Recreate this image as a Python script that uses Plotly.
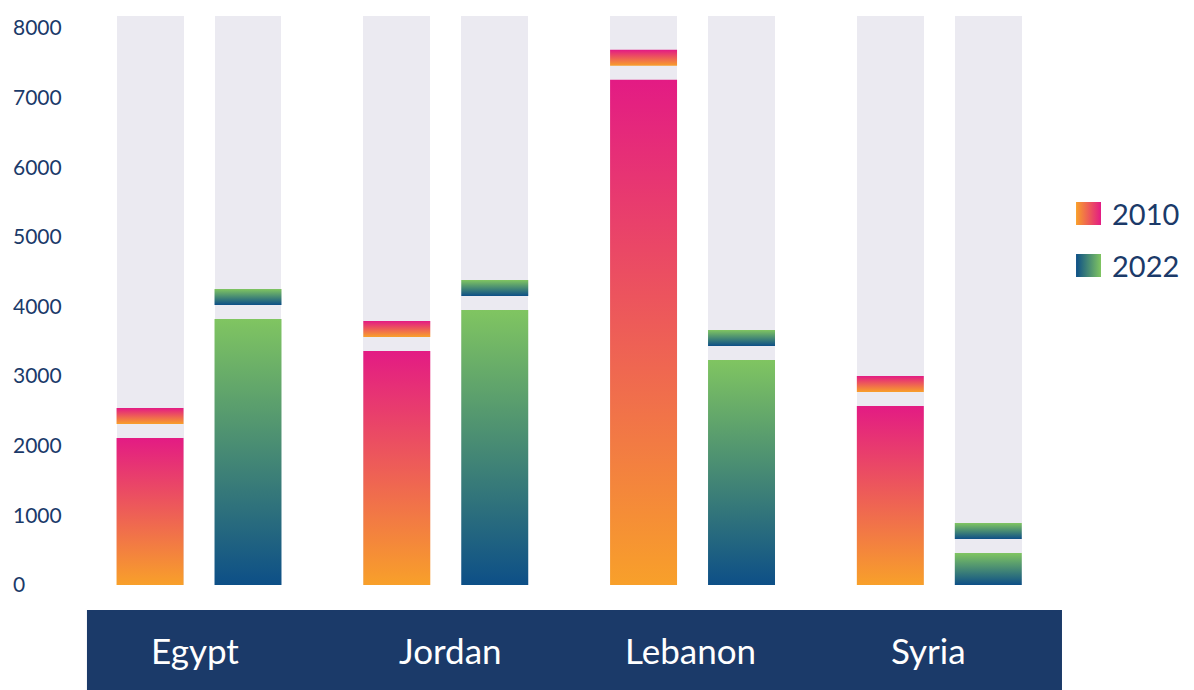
import plotly.graph_objects as go

# ---- data ----
countries = ["Egypt", "Jordan", "Lebanon", "Syria"]
years = ["2010", "2022"]
values_2010 = [2112, 3362, 7256, 2572]
values_2022 = [3822, 3951, 3233, 460]
track_max = 8172
y_ticks = [0, 1000, 2000, 3000, 4000, 5000, 6000, 7000, 8000]

# ---- style ----
NAVY = "#1b3a69"
TRACK = "#ebeaf1"
ORANGE, MAGENTA = "#f8a02a", "#e31b84"
BLUE, GREEN = "#0d4f87", "#80c561"
FONT = "Lato"
BAR_OFFSET = 0.1985   # distance of each year's bar from the group centre
HALF_W = 0.1357       # half bar width
CAP_GAP = 200         # space between the bar and its cap
CAP_H = 230           # height of the cap block
LABEL_SHIFT = [-4, 5, -2, -11]  # small horizontal nudges for the band labels

series = [
    (values_2010, -BAR_OFFSET, ORANGE, MAGENTA),
    (values_2022, BAR_OFFSET, BLUE, GREEN),
]

fig = go.Figure()

# light background tracks
for vals, off, c0, c1 in series:
    fig.add_trace(go.Bar(
        x=[i + off for i in range(len(countries))],
        y=[track_max] * len(countries),
        width=2 * HALF_W,
        marker=dict(color=TRACK, line=dict(width=0)),
        showlegend=False, hoverinfo="skip",
    ))


def rect(x0, x1, y0, y1, bottom, top):
    return go.Scatter(
        x=[x0, x1, x1, x0, x0], y=[y0, y0, y1, y1, y0],
        mode="lines", line=dict(width=0), fill="toself",
        fillgradient=dict(type="vertical",
                          colorscale=[[0, bottom], [1, top]]),
        showlegend=False, hoverinfo="skip",
    )


# gradient bars plus the small cap above each one
for vals, off, c0, c1 in series:
    for i, v in enumerate(vals):
        xc = i + off
        fig.add_trace(rect(xc - HALF_W, xc + HALF_W, 0, v, c0, c1))
        fig.add_trace(rect(xc - HALF_W, xc + HALF_W,
                           v + CAP_GAP, v + CAP_GAP + CAP_H, c0, c1))

# legend: gradient swatches on a small pixel-scaled axis to the right
legend_rows = [(years[0], ORANGE, MAGENTA, 76.5), (years[1], BLUE, GREEN, 24.5)]
for label, c0, c1, yc in legend_rows:
    fig.add_trace(go.Scatter(
        x=[6, 31, 31, 6, 6],
        y=[yc - 11.5, yc - 11.5, yc + 11.5, yc + 11.5, yc - 11.5],
        mode="lines", line=dict(width=0), fill="toself",
        fillgradient=dict(type="horizontal", colorscale=[[0, c0], [1, c1]]),
        xaxis="x2", yaxis="y2", showlegend=False, hoverinfo="skip",
    ))
    fig.add_annotation(x=40, y=yc, xref="x2", yref="y2", text=label,
                       showarrow=False, xanchor="left", yanchor="middle",
                       font=dict(family=FONT, size=29, color=NAVY))

# country band under the plot
fig.add_shape(type="rect", xref="paper", yref="paper",
              x0=0.0650, x1=0.8885, y0=-0.1525, y1=-0.01695,
              fillcolor=NAVY, line=dict(width=0), layer="below")
for i, c in enumerate(countries):
    fig.add_annotation(x=i, y=-0.0847, xref="x", yref="paper", text=c,
                       xshift=LABEL_SHIFT[i],
                       showarrow=False, xanchor="center", yanchor="middle",
                       font=dict(family=FONT, size=35, color="white"))

fig.update_layout(
    width=1194, height=690,
    margin=dict(l=10, r=0, t=10, b=90),
    paper_bgcolor="white", plot_bgcolor="white",
    barmode="overlay", bargap=0,
    showlegend=False,
    xaxis=dict(domain=[0, 0.8868], range=[-0.766, 3.489], showgrid=False,
               zeroline=False, showticklabels=False, showline=False,
               fixedrange=True),
    yaxis=dict(range=[-215.4, 8258.5], tickvals=y_ticks, showgrid=False,
               zeroline=False, showline=False, ticks="",
               ticklabelposition="inside",
               tickfont=dict(family=FONT, size=21, color=NAVY)),
    xaxis2=dict(domain=[0.8953, 1.0], anchor="y2", range=[0, 124],
                visible=False, fixedrange=True),
    yaxis2=dict(domain=[0.5254, 0.6949], anchor="x2", range=[0, 100],
                visible=False, fixedrange=True),
)

fig.write_html("out.html")
